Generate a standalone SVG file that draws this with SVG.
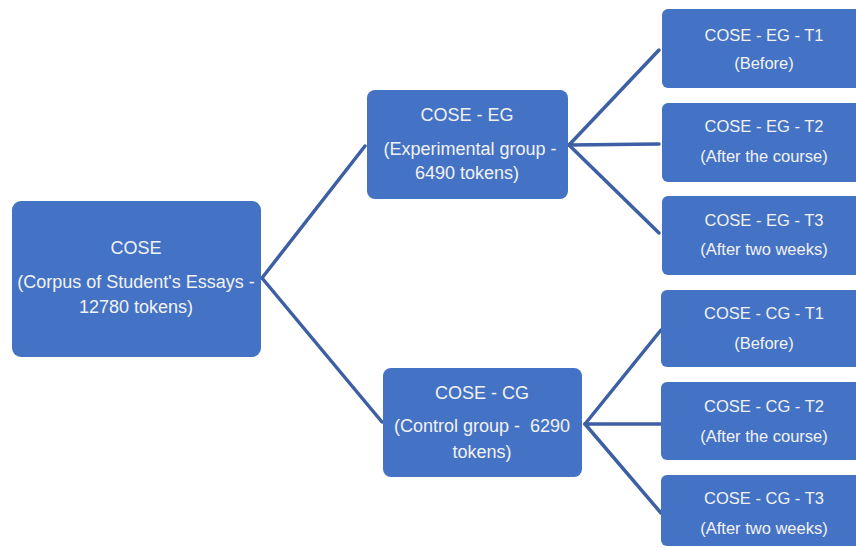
<svg xmlns="http://www.w3.org/2000/svg" width="856" height="548" viewBox="0 0 856 548">
<style>
.box{fill:#4472C4;}
.t{font-family:"Liberation Sans","DejaVu Sans",sans-serif;font-size:18px;fill:#F2F2F2;text-anchor:middle;dominant-baseline:central;}
.s{font-size:16.5px;}
.c{stroke:#3D5FA3;stroke-width:3.5;fill:none;stroke-linecap:round;}
</style>
<rect width="856" height="548" fill="#FFFFFF"/>
<g id="connectors">
<path class="c" d="M262 278 L365 146"/>
<path class="c" d="M262 278 L382 422"/>
<path class="c" d="M569 145 L659 50"/>
<path class="c" d="M569 145 L659 144"/>
<path class="c" d="M569 145 L659 233"/>
<path class="c" d="M585 424 L661 330"/>
<path class="c" d="M585 424 L661 424"/>
<path class="c" d="M585 424 L661 513"/>
</g>
<g id="cose">
<rect class="box" x="12" y="201" width="249" height="156" rx="9"/>
<text class="t" x="136" y="248">COSE</text>
<text class="t" x="136" y="282">(Corpus of Student's Essays -</text>
<text class="t" x="136" y="307">12780 tokens)</text>
</g>
<g id="cose-eg">
<rect class="box" x="367" y="90" width="201" height="109" rx="8"/>
<text class="t" x="467" y="115">COSE - EG</text>
<text class="t" x="470" y="149">(Experimental group -</text>
<text class="t" x="467" y="173">6490 tokens)</text>
</g>
<g id="cose-cg">
<rect class="box" x="383" y="368" width="199" height="109" rx="8"/>
<text class="t" x="482" y="393">COSE - CG</text>
<text class="t" x="482" y="426" xml:space="preserve">(Control group -  6290</text>
<text class="t" x="482" y="452">tokens)</text>
</g>
<g id="eg-t1">
<rect class="box" x="662" y="9" width="204" height="79" rx="6"/>
<text class="t s" x="764" y="35">COSE - EG - T1</text>
<text class="t s" x="764" y="63">(Before)</text>
</g>
<g id="eg-t2">
<rect class="box" x="662" y="103" width="204" height="79" rx="6"/>
<text class="t s" x="764" y="126">COSE - EG - T2</text>
<text class="t s" x="764" y="156">(After the course)</text>
</g>
<g id="eg-t3">
<rect class="box" x="662" y="196" width="204" height="79" rx="6"/>
<text class="t s" x="764" y="220">COSE - EG - T3</text>
<text class="t s" x="764" y="249">(After two weeks)</text>
</g>
<g id="cg-t1">
<rect class="box" x="661" y="290" width="205" height="77" rx="6"/>
<text class="t s" x="764" y="313">COSE - CG - T1</text>
<text class="t s" x="764" y="343">(Before)</text>
</g>
<g id="cg-t2">
<rect class="box" x="661" y="382" width="205" height="78" rx="6"/>
<text class="t s" x="764" y="406">COSE - CG - T2</text>
<text class="t s" x="764" y="436">(After the course)</text>
</g>
<g id="cg-t3">
<rect class="box" x="661" y="475" width="205" height="71" rx="6"/>
<text class="t s" x="764" y="498">COSE - CG - T3</text>
<text class="t s" x="764" y="528">(After two weeks)</text>
</g>
</svg>
